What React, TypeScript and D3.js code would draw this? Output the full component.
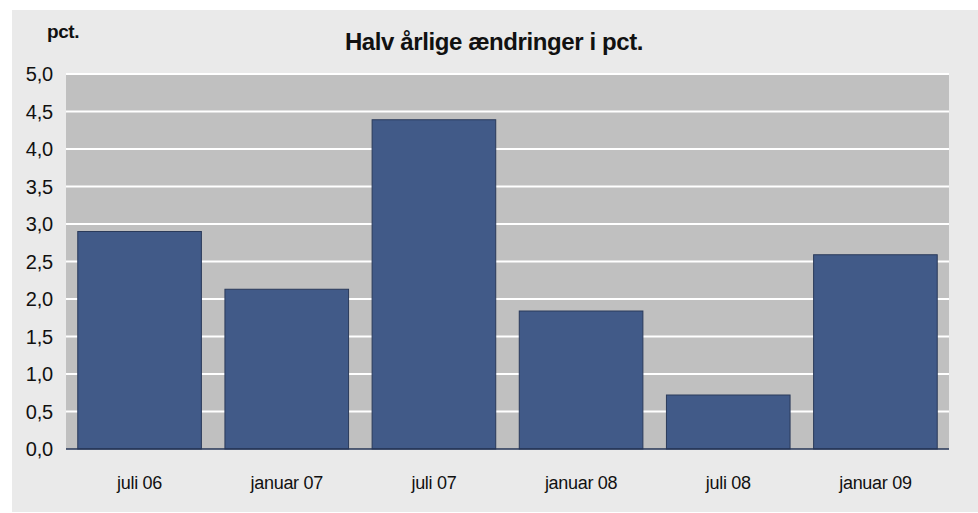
import React from 'react';
import * as d3 from 'd3';

const categories = ['juli 06', 'januar 07', 'juli 07', 'januar 08', 'juli 08', 'januar 09'];
const values = [2.9, 2.13, 4.39, 1.84, 0.72, 2.59];
const yTicks = [0, 0.5, 1, 1.5, 2, 2.5, 3, 3.5, 4, 4.5, 5];

const W = 978;
const H = 513;
const plot = { left: 66, right: 949, top: 74, bottom: 449 };
const font = '"Liberation Sans", Arial, sans-serif';

const App = () => {
  const x = d3.scaleBand<string>()
    .domain(categories)
    .range([plot.left, plot.right])
    .paddingInner(0.16)
    .paddingOuter(0.08);

  const y = d3.scaleLinear().domain([0, 5]).range([plot.bottom, plot.top]);
  const fmt = (d: number) => d3.format('.1f')(d).replace('.', ',');

  return (
    <svg width={W} height={H} style={{ position: 'absolute', left: 0, top: 0 }} fontFamily={font}>
      <rect x={0} y={0} width={W} height={H} fill="#ffffff" />
      <rect x={12} y={10} width={W - 12} height={H - 11} fill="#eaeaea" />
      <rect x={plot.left} y={plot.top} width={plot.right - plot.left} height={plot.bottom - plot.top} fill="#c0c0c0" />

      {/* grid lines */}
      {yTicks.filter(t => t > 0).map(t => (
        <line key={t} x1={plot.left} x2={plot.right} y1={y(t)} y2={y(t)} stroke="#ffffff" strokeWidth={2} />
      ))}

      {/* bars */}
      {values.map((v, i) => (
        <rect
          key={categories[i]}
          x={x(categories[i])}
          y={y(v)}
          width={x.bandwidth()}
          height={y(0) - y(v)}
          fill="#415a88"
          stroke="#2a3a5a"
          strokeWidth={1}
        />
      ))}

      <line x1={plot.left} x2={plot.right} y1={y(0)} y2={y(0)} stroke="#243456" strokeWidth={1.5} />

      {/* y tick labels */}
      {yTicks.map(t => (
        <text key={t} x={53} y={y(t)} dy="0.36em" textAnchor="end" fontSize={20} letterSpacing={-0.2} fill="#111">
          {fmt(t)}
        </text>
      ))}

      {/* x labels */}
      {categories.map(c => (
        <text key={c} x={(x(c) ?? 0) + x.bandwidth() / 2} y={489} textAnchor="middle" fontSize={18} letterSpacing={-0.3} fill="#111">
          {c}
        </text>
      ))}

      <text x={47} y={38} fontSize={19} fontWeight="bold" letterSpacing={-0.4} fill="#111">pct.</text>
      <text x={494} y={50} textAnchor="middle" fontSize={24} fontWeight="bold" letterSpacing={-0.4} fill="#111">
        Halv årlige ændringer i pct.
      </text>
    </svg>
  );
};

export default App;
